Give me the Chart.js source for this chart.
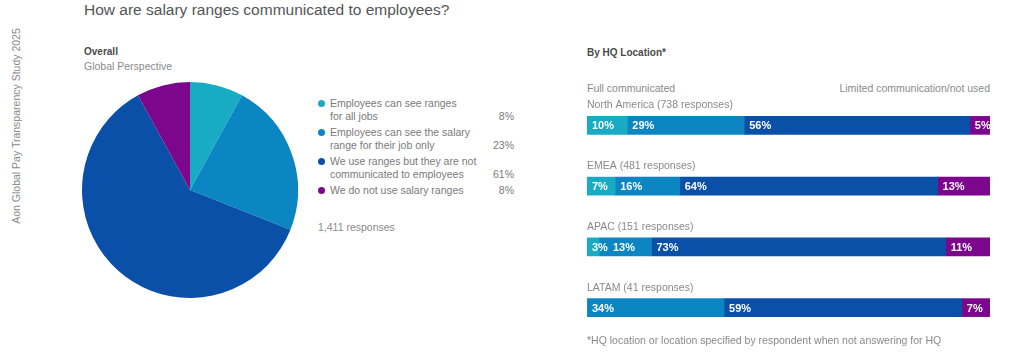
<!DOCTYPE html>
<html>
<head>
<meta charset="utf-8">
<script src="https://cdn.jsdelivr.net/npm/chart.js@4"></script>
<style>
  body { margin: 0; width: 1024px; height: 363px; background: #fff; font-family: "Liberation Sans", Arial, sans-serif; color: #7a7a7a; position: relative; overflow: hidden; }
  .abs { position: absolute; white-space: nowrap; }
  #side { left: 16px; top: 126px; transform: translate(-50%, -50%) rotate(-90deg); font-size: 10.5px; color: #8a8a8a; }
  #title { left: 84px; top: 1px; font-size: 15.5px; color: #555; }
  .head { font-size: 10px; font-weight: bold; color: #4a4a4a; }
  .sub { font-size: 10.5px; color: #8a8a8a; }
  #legend { left: 318px; top: 97px; width: 196px; font-size: 10.5px; color: #7a7a7a; line-height: 13px; }
  .item { position: relative; padding-left: 12px; margin-bottom: 3px; }
  .item .dot { position: absolute; left: 0; top: 3px; width: 7px; height: 7px; border-radius: 50%; }
  .item .pct { position: absolute; right: 0; bottom: 0; }
  .small { font-size: 10.5px; color: #8a8a8a; }
</style>
</head>
<body>
<div class="abs" id="side">Aon Global Pay Transparency Study 2025</div>
<div class="abs" id="title">How are salary ranges communicated to employees?</div>
<div class="abs head" style="left:84px; top:46px;">Overall</div>
<div class="abs sub" style="left:84px; top:60px;">Global Perspective</div>
<canvas id="pieChart" width="216" height="216" class="abs" style="left:82px; top:82px;"></canvas>
<div class="abs" id="legend"></div>
<div class="abs small" style="left:318px; top:221px;">1,411 responses</div>

<div class="abs head" style="left:587px; top:47px;">By HQ Location*</div>
<div class="abs small" style="left:587px; top:82px;">Full communicated</div>
<div class="abs small" style="right:34px; top:82px;">Limited communication/not used</div>
<canvas id="barChart" width="403" height="243" class="abs" style="left:587px; top:95px;"></canvas>
<div class="abs" style="left:587px; top:334px; font-size:10.5px; color:#8a8a8a;">*HQ location or location specified by respondent when not answering for HQ</div>

<script>
const categories = [
    ['Employees can see ranges', 'for all jobs'],
    ['Employees can see the salary', 'range for their job only'],
    ['We use ranges but they are not', 'communicated to employees'],
    ['We do not use salary ranges']
];
const overallValues = [8, 23, 61, 8];
const sliceColors = ['#17acc3', '#0b86c2', '#0a50a8', '#7c078c'];

const regions = ['North America (738 responses)', 'EMEA (481 responses)', 'APAC (151 responses)', 'LATAM (41 responses)'];
const seeAll = [10, 7, 3, 0];
const seeOwn = [29, 16, 13, 34];
const notCommunicated = [56, 64, 73, 59];
const notUsed = [5, 13, 11, 7];

// legend built from the same arrays
const legend = document.getElementById('legend');
categories.forEach((lines, i) => {
    const div = document.createElement('div');
    div.className = 'item';
    div.innerHTML = '<span class="dot" style="background:' + sliceColors[i] + '"></span>' +
        lines.join('<br>') + '<span class="pct">' + overallValues[i] + '%</span>';
    legend.appendChild(div);
});

new Chart(document.getElementById('pieChart'), {
    type: 'pie',
    data: {
        labels: categories.map(c => c.join(' ')),
        datasets: [{ data: overallValues, backgroundColor: sliceColors, borderWidth: 0 }]
    },
    options: {
        responsive: false,
        animation: false,
        layout: { padding: 0 },
        plugins: { legend: { display: false }, tooltip: { enabled: false } }
    }
});

const barLabels = {
    id: 'barLabels',
    afterDatasetsDraw(chart) {
        const ctx = chart.ctx;
        ctx.save();
        ctx.textBaseline = 'middle';
        // region names above each bar
        const meta0 = chart.getDatasetMeta(0);
        ctx.font = '10.5px "Liberation Sans", Arial, sans-serif';
        ctx.fillStyle = '#8a8a8a';
        regions.forEach((r, i) => {
            ctx.fillText(r, chart.chartArea.left, meta0.data[i].y - 20);
        });
        // percentages inside segments, nudged so they never run into each other
        ctx.font = 'bold 11px "Liberation Sans", Arial, sans-serif';
        ctx.fillStyle = '#fff';
        regions.forEach((r, i) => {
            let lastEnd = -Infinity;
            chart.data.datasets.forEach((ds, di) => {
                const v = ds.data[i];
                if (!v) return;
                const bar = chart.getDatasetMeta(di).data[i];
                const txt = v + '%';
                const x = Math.max(Math.min(bar.base, bar.x) + 5, lastEnd + 5);
                ctx.fillText(txt, x, bar.y + 1);
                lastEnd = x + ctx.measureText(txt).width;
            });
        });
        ctx.restore();
    }
};

new Chart(document.getElementById('barChart'), {
    type: 'bar',
    data: {
        labels: regions,
        datasets: [
            { data: seeAll, backgroundColor: sliceColors[0] },
            { data: seeOwn, backgroundColor: sliceColors[1] },
            { data: notCommunicated, backgroundColor: sliceColors[2] },
            { data: notUsed, backgroundColor: sliceColors[3] }
        ]
    },
    options: {
        indexAxis: 'y',
        responsive: false,
        animation: false,
        layout: { padding: 0 },
        datasets: { bar: { barThickness: 18, borderWidth: 0 } },
        scales: {
            x: { stacked: true, min: 0, max: 100, display: false },
            y: { stacked: true, display: false }
        },
        plugins: { legend: { display: false }, tooltip: { enabled: false } }
    },
    plugins: [barLabels]
});
</script>
</body>
</html>
